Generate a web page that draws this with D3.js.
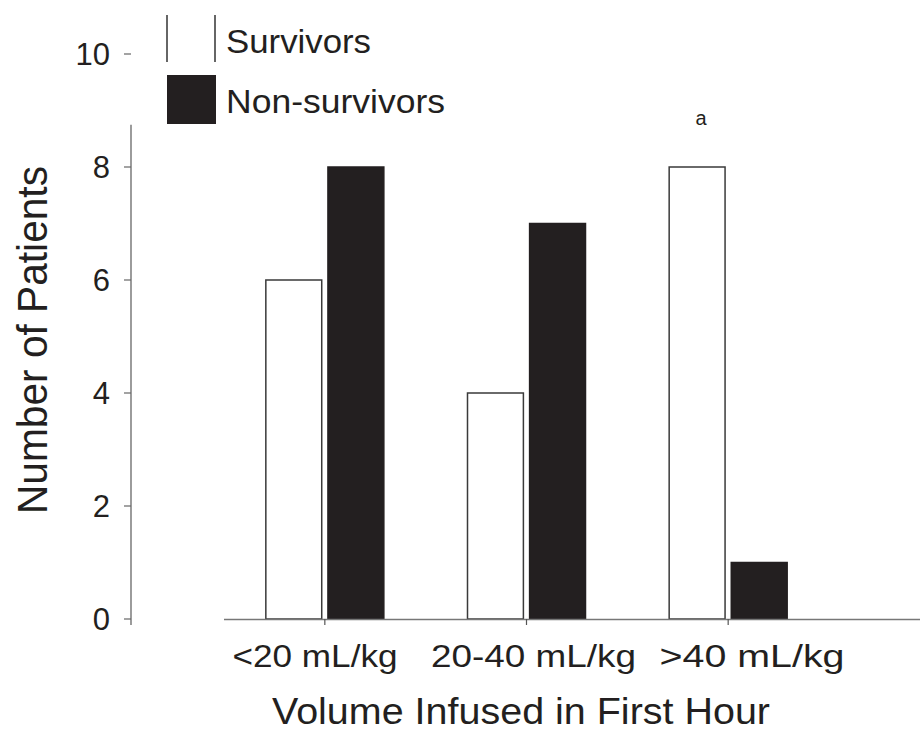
<!DOCTYPE html>
<html>
<head>
<meta charset="utf-8">
<script src="https://cdn.jsdelivr.net/npm/d3@7"></script>
<style>
  html, body { margin: 0; padding: 0; background: #fff; }
  svg { display: block; }
  text { font-family: "Liberation Sans", Arial, Helvetica, sans-serif; fill: #231f20; }
</style>
</head>
<body>
<svg id="chart" width="920" height="731"></svg>
<script>
// ---- data ----
const categories = ["<20 mL/kg", "20-40 mL/kg", ">40 mL/kg"];
const seriesNames = ["Survivors", "Non-survivors"];
const survivors = [6, 4, 8];
const nonSurvivors = [8, 7, 1];
const yTicks = [0, 2, 4, 6, 8, 10];
const annotations = [{ category: ">40 mL/kg", series: "Survivors", text: "a" }];
const xTitle = "Volume Infused in First Hour";
const yTitle = "Number of Patients";

// ---- layout ----
const svg = d3.select("#chart");
const W = 920, H = 731;
const x0 = d3.scaleBand().domain(categories).range([224, 829]).padding(0);
const x1 = d3.scaleBand().domain(seriesNames).range([-59, 59]).paddingInner(0.1);
const y = d3.scaleLinear().domain([0, 10]).range([619, 54]);
const cx = c => x0(c) + x0.bandwidth() / 2;
const labelX = d3.scalePoint().domain(categories).range([315, 752]);

const rows = categories.map((c, i) => ({ c, vals: [survivors[i], nonSurvivors[i]] }));

// bars
const g = svg.append("g");
rows.forEach(r => {
  seriesNames.forEach((s, j) => {
    const v = r.vals[j];
    const xl = cx(r.c) + x1(s);
    g.append("rect")
      .attr("x", xl)
      .attr("y", y(v))
      .attr("width", x1.bandwidth())
      .attr("height", y(0) - y(v))
      .attr("fill", j === 0 ? "#ffffff" : "#231f20")
      .attr("stroke", j === 0 ? "#3a3a3a" : "#231f20")
      .attr("stroke-width", 1.5);
  });
});

// x axis line
svg.append("line")
  .attr("x1", x0.range()[0]).attr("x2", W)
  .attr("y1", y(0) + 0.5).attr("y2", y(0) + 0.5)
  .attr("stroke", "#777").attr("stroke-width", 1.5);
// x ticks
categories.forEach(c => {
  svg.append("line")
    .attr("x1", cx(c)).attr("x2", cx(c))
    .attr("y1", y(0)).attr("y2", y(0) + 6)
    .attr("stroke", "#555").attr("stroke-width", 1.2);
});
// x labels
const xLabelWidths = { "<20 mL/kg": 165, "20-40 mL/kg": 205, ">40 mL/kg": 185 };
categories.forEach(c => {
  svg.append("text")
    .attr("x", labelX(c)).attr("y", 667)
    .attr("text-anchor", "middle")
    .attr("font-size", 31)
    .attr("textLength", xLabelWidths[c])
    .attr("lengthAdjust", "spacingAndGlyphs")
    .text(c);
});
// x title
svg.append("text")
  .attr("x", 521).attr("y", 724)
  .attr("text-anchor", "middle")
  .attr("font-size", 37)
  .attr("textLength", 498)
  .attr("lengthAdjust", "spacingAndGlyphs")
  .text(xTitle);

// y axis
svg.append("line")
  .attr("x1", 131).attr("x2", 131)
  .attr("y1", y(8.75)).attr("y2", y(0) + 6)
  .attr("stroke", "#666").attr("stroke-width", 1.3);
yTicks.forEach(t => {
  svg.append("line")
    .attr("x1", 124).attr("x2", 131)
    .attr("y1", y(t)).attr("y2", y(t))
    .attr("stroke", "#666").attr("stroke-width", 1.2);
  svg.append("text")
    .attr("x", 110).attr("y", y(t))
    .attr("dy", "0.36em")
    .attr("text-anchor", "end")
    .attr("font-size", 31)
    .text(t);
});
// y title
svg.append("text")
  .attr("transform", `translate(47,${340}) rotate(-90)`)
  .attr("text-anchor", "middle")
  .attr("font-size", 42)
  .attr("textLength", 348)
  .attr("lengthAdjust", "spacingAndGlyphs")
  .text(yTitle);

// annotation
annotations.forEach(a => {
  const i = categories.indexOf(a.category);
  const j = seriesNames.indexOf(a.series);
  const v = [survivors, nonSurvivors][j][i];
  svg.append("text")
    .attr("x", cx(a.category) + x1(a.series) + x1.bandwidth() / 2 + 4)
    .attr("y", y(v) - 42)
    .attr("text-anchor", "middle")
    .attr("font-size", 20)
    .text(a.text);
});

// legend
const leg = svg.append("g");
leg.append("line").attr("x1", 167).attr("x2", 167).attr("y1", 15).attr("y2", 62)
  .attr("stroke", "#333").attr("stroke-width", 1.5);
leg.append("line").attr("x1", 215).attr("x2", 215).attr("y1", 15).attr("y2", 62)
  .attr("stroke", "#333").attr("stroke-width", 1.5);
leg.append("text").attr("x", 226).attr("y", 53)
  .attr("font-size", 34).attr("textLength", 145).attr("lengthAdjust", "spacingAndGlyphs")
  .text(seriesNames[0]);
leg.append("rect").attr("x", 167).attr("y", 75).attr("width", 49).attr("height", 49)
  .attr("fill", "#231f20");
leg.append("text").attr("x", 226).attr("y", 113)
  .attr("font-size", 34).attr("textLength", 219).attr("lengthAdjust", "spacingAndGlyphs")
  .text(seriesNames[1]);
</script>
</body>
</html>
